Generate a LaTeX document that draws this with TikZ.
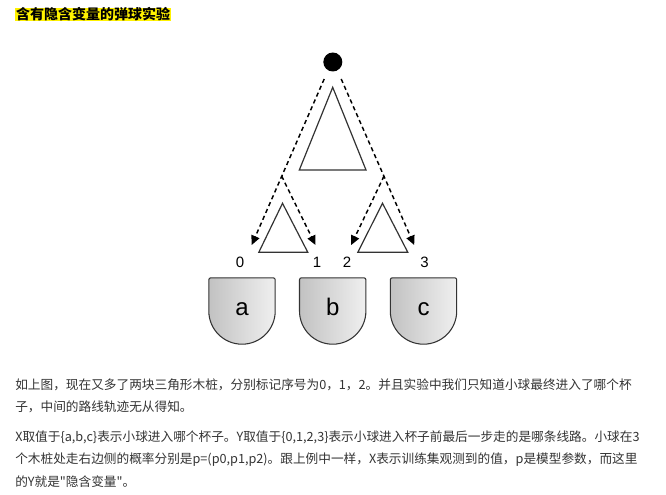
\documentclass[tikz,border=0pt]{standalone}
\usepackage{fontspec}
\setmainfont{Liberation Sans}
\newfontfamily\cjk{Noto Sans CJK SC}
\usetikzlibrary{arrows.meta}
\definecolor{txt}{HTML}{333333}
\definecolor{edge}{HTML}{333333}
\begin{document}
\begin{tikzpicture}[x=0.75pt,y=-0.75pt,
  peg/.style={draw=edge,line width=0.9pt,fill=white,line join=miter},
  path/.style={draw=black,line width=1.1pt,dash pattern=on 3.2pt off 2.4pt,
    -{Triangle[length=7pt,width=6.4pt]}},
  cup/.style={draw=edge,line width=0.8pt,left color=gray!48,right color=gray!12},
  cuplabel/.style={font=\fontsize{18}{20}\selectfont,inner sep=0pt,anchor=base},
  numlabel/.style={font=\fontsize{11.25}{13}\selectfont,inner sep=0pt,anchor=base},
  body/.style={anchor=west,inner sep=0pt,text=txt,font=\cjk\fontsize{9.5}{12}\selectfont}]
\useasboundingbox (0,0) rectangle (666,495);

% title
\node[anchor=west,fill=yellow,inner xsep=0.6pt,inner ysep=0pt,text height=0.86em,text depth=0.12em,
  font=\cjk\bfseries\fontsize{10.5}{12}\selectfont,text=black] (title) at (15,14.6) {含有隐含变量的弹球实验};

% ball
\node[circle,fill=black,minimum size=14.25pt,inner sep=0pt] (ball) at (332.8,62) {};

% pegs
\path[peg] (332.7,87.3) -- (366,170) -- (299.3,170) -- cycle;
\path[peg] (282.5,203.3) -- (307.8,252.3) -- (258.8,252.3) -- cycle;
\path[peg] (382.5,203.3) -- (407.8,252.3) -- (357.8,252.3) -- cycle;

% coordinates of the paths
\coordinate (sL) at (324.2,79);
\coordinate (sR) at (341.2,79);
\coordinate (bL) at (281.6,176);
\coordinate (bR) at (384,176);
\coordinate (e0) at (251.7,245);
\coordinate (e1) at (315.5,245);
\coordinate (e2) at (351.2,245);
\coordinate (e3) at (414.2,245);

\draw[path] (sL) -- (e0);
\draw[path] (bL) -- (e1);
\draw[path] (sR) -- (e3);
\draw[path] (bR) -- (e2);

% number labels
\node[numlabel] (n0) at (240,267) {0};
\node[numlabel] (n1) at (317,267) {1};
\node[numlabel] (n2) at (347,267) {2};
\node[numlabel] (n3) at (424.5,267) {3};

% cups
\path[cup] (208.8,311) {[rounded corners=1.5pt] -- (208.8,277.8) -- (275.2,277.8)} -- (275.2,311)
  arc[start angle=0,end angle=-180,radius=24.9pt] -- cycle;
\path[cup] (299.5,311) {[rounded corners=1.5pt] -- (299.5,277.8) -- (365.9,277.8)} -- (365.9,311)
  arc[start angle=0,end angle=-180,radius=24.9pt] -- cycle;
\path[cup] (390.3,311) {[rounded corners=1.5pt] -- (390.3,277.8) -- (456.7,277.8)} -- (456.7,311)
  arc[start angle=0,end angle=-180,radius=24.9pt] -- cycle;
\node[cuplabel] (ca) at (242,315.5) {a};
\node[cuplabel] (cb) at (332.7,315.5) {b};
\node[cuplabel] (cc) at (423.5,315.5) {c};

% body text
\node[body] (t1) at (15,385) {如上图，现在又多了两块三角形木桩，分别标记序号为0，1，2。并且实验中我们只知道小球最终进入了哪个杯};
\node[body] (t2) at (15,407) {子，中间的路线轨迹无从得知。};
\node[body] (t3) at (15,437) {X取值于\{a,b,c\}表示小球进入哪个杯子。Y取值于\{0,1,2,3\}表示小球进入杯子前最后一步走的是哪条线路。小球在3};
\node[body] (t4) at (15,459.5) {个木桩处走右边侧的概率分别是p=(p0,p1,p2)。跟上例中一样，X表示训练集观测到的值，p是模型参数，而这里};
\node[body] (t5) at (15,481.5) {的Y就是"隐含变量"。};
\end{tikzpicture}
\end{document}
